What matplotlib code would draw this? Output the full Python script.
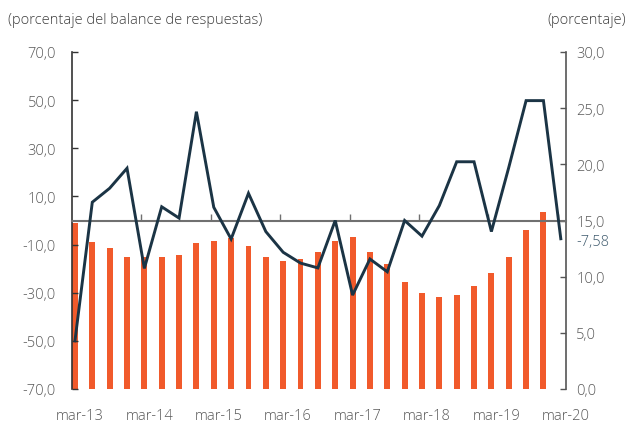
import matplotlib
matplotlib.use("Agg")
import matplotlib.pyplot as plt
import matplotlib.transforms as mtransforms
import numpy as np

# ---- data ----
quarters = [f"{m}-{y}" for y in range(13, 21) for m in ("mar", "jun", "sep", "dic")][:29]
balance = [-50.0, 7.6, 13.4, 21.7, -19.9, 5.7, 1.0, 45.2, 5.5, -7.7, 11.3, -4.6,
           -13.2, -17.7, -19.7, 0.0, -31.0, -16.0, -21.3, 0.0, -6.5, 6.2, 24.4,
           24.4, -4.6, 22.0, 49.8, 49.8, -7.58]
pct = [14.8, 13.1, 12.55, 11.75, 11.75, 11.75, 11.96, 13.0, 13.15, 13.45, 12.76,
       11.75, 11.37, 11.57, 12.17, 13.18, 13.56, 12.17, 11.16, 9.55, 8.55, 8.16,
       8.37, 9.14, 10.36, 11.75, 14.18, 15.79]
year_labels = ["mar-13", "mar-14", "mar-15", "mar-16", "mar-17", "mar-18", "mar-19", "mar-20"]
left_ticks = [-70, -50, -30, -10, 10, 30, 50, 70]
right_ticks = [0, 5, 10, 15, 20, 25, 30]
last_label = "-7,58"

plt.rcParams['font.family'] = ['Open Sans', 'DejaVu Sans']
plt.rcParams['font.weight'] = 300
TXT = '#595959'
LINE_C = '#1b3445'
BAR_C = '#f15a2b'

fig = plt.figure(figsize=(6.31, 4.27), dpi=100)
ax = fig.add_axes([72/631, 37/427, 494/631, 337/427])
ax2 = ax.twinx()

x_line = np.arange(len(balance))
x_bar = np.arange(len(pct))

ax2.bar(x_bar, pct, width=0.34, color=BAR_C, zorder=1)
ax2.set_ylim(0, 30)
ax2.set_yticks(right_ticks)
ax2.set_yticklabels([f"{v:.1f}".replace('.', ',') for v in right_ticks])
ax2.tick_params(axis='y', direction='in', length=4, width=1, colors='#555555',
                labelcolor=TXT, labelsize=10.5, pad=7.5)
for s in ('left', 'top', 'bottom'):
    ax2.spines[s].set_visible(False)
ax2.spines['right'].set_color('#555555')
ax2.spines['right'].set_linewidth(1.2)

ax.set_zorder(ax2.get_zorder() + 1)
ax.patch.set_visible(False)
ax.plot(x_line, balance, color=LINE_C, lw=2.1, zorder=3, solid_joinstyle='miter')
ax.set_ylim(-70, 70)
ax.set_xlim(-0.17, 28.3)
ax.set_yticks(left_ticks)
ax.set_yticklabels([f"{v:.1f}".replace('.', ',') for v in left_ticks])
ax.tick_params(axis='y', direction='in', length=4, width=1, colors='#333333',
               labelcolor=TXT, labelsize=10.5, pad=11.5)
ax.spines['top'].set_visible(False)
ax.spines['right'].set_visible(False)
ax.spines['left'].set_color('#333333')
ax.spines['left'].set_linewidth(1.2)
ax.spines['bottom'].set_position(('data', 0))
ax.spines['bottom'].set_color('#707070')
ax.spines['bottom'].set_linewidth(1.5)
ax.spines['bottom'].set_zorder(2.5)
ax.set_xticks([4 * k - 0.17 for k in range(1, 8)])
ax.tick_params(axis='x', direction='in', length=5, width=1, colors='#707070',
               labelbottom=False)

sec = ax.secondary_xaxis(0.0)
sec.set_xticks([0.28 + 4 * k for k in range(len(year_labels))])
sec.set_xticklabels(year_labels)
sec.tick_params(axis='x', length=0, labelsize=10.5, labelcolor=TXT, pad=14)
sec.spines['bottom'].set_visible(False)

trans = mtransforms.blended_transform_factory(ax.transAxes, ax.transData)
ax.text(1.021, -8.9, last_label, transform=trans,
        color='#3f5b6e', fontsize=10.5, va='center', ha='left')

fig.text(8/631, 1 - 20/427, "(porcentaje del balance de respuestas)", color='#404040',
         fontsize=10.5, va='center', ha='left')
fig.text(626/631, 1 - 20/427, "(porcentaje)", color='#404040',
         fontsize=10.5, va='center', ha='right')

fig.savefig("out.png", dpi=100)
